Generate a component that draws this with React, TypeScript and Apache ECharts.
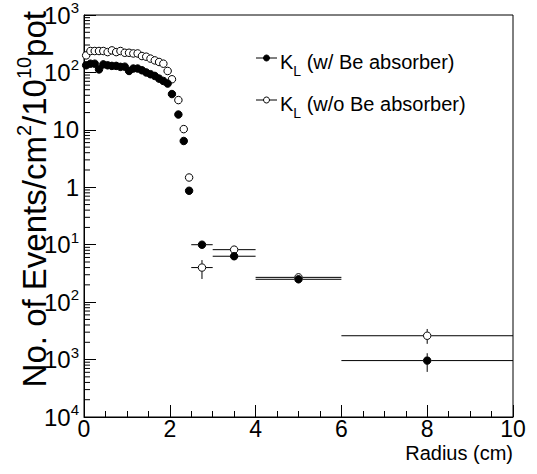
import React, { useEffect, useRef } from "react";
import * as echarts from "echarts";

// Bin centres (cm) and half bin widths
const radius = [
  0.05, 0.15, 0.25, 0.35, 0.45, 0.55, 0.65, 0.75, 0.85, 0.95, 1.05, 1.15, 1.25, 1.35,
  1.45, 1.55, 1.65, 1.75, 1.85, 1.95, 2.05, 2.2, 2.325, 2.45, 2.75, 3.5, 5, 8,
];
const binHalfWidth = [
  0.05, 0.05, 0.05, 0.05, 0.05, 0.05, 0.05, 0.05, 0.05, 0.05, 0.05, 0.05, 0.05, 0.05,
  0.05, 0.05, 0.05, 0.05, 0.05, 0.05, 0.05, 0.0625, 0.0625, 0.0625, 0.25, 0.5, 1, 2,
];
// K_L (w/ Be absorber)
const eventsWithBe = [
  133, 142, 142, 113, 138, 133, 130, 130, 125, 126, 106, 117, 117, 109, 100, 93, 87, 78,
  71, 64, 42, 18.5, 6.4, 0.87, 0.1, 0.063, 0.025, 0.00096,
];
const withBeErrLow = [
  null, null, null, null, null, null, null, null, null, null, null, null, null, null,
  null, null, null, null, null, null, null, null, null, null, null, null, null, 0.00061,
];
const withBeErrHigh = [
  null, null, null, null, null, null, null, null, null, null, null, null, null, null,
  null, null, null, null, null, null, null, null, null, null, null, null, null, 0.00129,
];
// K_L (w/o Be absorber)
const eventsWithoutBe = [
  198, 236, 236, 236, 236, 226, 242, 226, 236, 220, 220, 214, 214, 193, 188, 174, 162,
  152, 142, 106, 76, 33, 10.3, 1.48, 0.04, 0.082, 0.027, 0.0026,
];
const withoutBeErrLow = [
  null, null, null, null, null, null, null, null, null, null, null, null, null, null,
  null, null, null, null, null, null, null, null, null, null, 0.0253, null, null, 0.00188,
];
const withoutBeErrHigh = [
  null, null, null, null, null, null, null, null, null, null, null, null, null, null,
  null, null, null, null, null, null, null, null, null, null, 0.054, null, null, 0.00341,
];

// Axis tick labels (as printed in the original figure)
const xTickLabels = ["0", "2", "4", "6", "8", "10"];
const yTickExponents = [-4, -3, -2, -1, 0, 1, 2, 3];
const yTickLabels = [
  "{b|10}{s|4}", "{b|10}{s|3}", "{b|10}{s|2}", "{b|10}{s|1}",
  "{b|1}", "{b|10}", "{b|10}{s|2}", "{b|10}{s|3}",
];
const yMinorMultipliers = [2, 3, 4, 5, 6, 7, 8, 9];

const legendLabels = ["(w/ Be absorber)", "(w/o Be absorber)"];
const FONT = "'Liberation Sans', Arial, Helvetica, sans-serif";

export default function App() {
  const ref = useRef<HTMLDivElement>(null);

  useEffect(() => {
    if (!ref.current) return;
    const chart = echarts.init(ref.current, undefined, { renderer: "svg" });

    const build = (vals: number[], lo: (number | null)[], hi: (number | null)[]) =>
      radius.map((r, i) => [
        r,
        vals[i],
        r - binHalfWidth[i],
        r + binHalfWidth[i],
        lo[i] ?? vals[i],
        hi[i] ?? vals[i],
      ]);
    const dataWithBe = build(eventsWithBe, withBeErrLow, withBeErrHigh);
    const dataWithoutBe = build(eventsWithoutBe, withoutBeErrLow, withoutBeErrHigh);

    const minorData: number[][] = [];
    for (const e of yTickExponents.slice(0, -1)) {
      for (const m of yMinorMultipliers) minorData.push([0, m * Math.pow(10, e)]);
    }

    const gap = 4;
    const errRender = (params: any, api: any) => {
      const x = api.value(0), y = api.value(1);
      const c = api.coord([x, y]);
      const l = api.coord([api.value(2), y]);
      const r = api.coord([api.value(3), y]);
      const lo = api.coord([x, api.value(4)]);
      const hi = api.coord([x, api.value(5)]);
      const st = { stroke: "#000", lineWidth: 1 };
      const ch: any[] = [];
      if (c[0] - gap > l[0])
        ch.push({ type: "line", shape: { x1: l[0], y1: c[1], x2: c[0] - gap, y2: c[1] }, style: st });
      if (r[0] > c[0] + gap)
        ch.push({ type: "line", shape: { x1: c[0] + gap, y1: c[1], x2: r[0], y2: c[1] }, style: st });
      if (lo[1] > c[1] + gap)
        ch.push({ type: "line", shape: { x1: c[0], y1: c[1] + gap, x2: c[0], y2: lo[1] }, style: st });
      if (hi[1] < c[1] - gap)
        ch.push({ type: "line", shape: { x1: c[0], y1: hi[1], x2: c[0], y2: c[1] - gap }, style: st });
      return { type: "group", children: ch };
    };

    const legendY = [58, 100];
    const legendGraphics: any[] = [];
    legendY.forEach((ly, i) => {
      legendGraphics.push({
        type: "line",
        shape: { x1: 256, y1: ly, x2: 277, y2: ly },
        style: { stroke: "#000", lineWidth: 1 },
      });
      legendGraphics.push({
        type: "circle",
        shape: { cx: 266.5, cy: ly, r: 3 },
        style: { fill: i === 0 ? "#000" : "#fff", stroke: "#000", lineWidth: 1 },
      });
      legendGraphics.push({
        type: "text",
        x: 280,
        y: ly + 4,
        style: {
          text: `{k|K}{sub|L}{k| ${legendLabels[i]}}`,
          align: "left",
          verticalAlign: "middle",
          fill: "#000",
          rich: {
            k: { fontSize: 20, fontFamily: FONT, lineHeight: 32, fill: "#000" },
            sub: { fontSize: 14, fontFamily: FONT, lineHeight: 14, verticalAlign: "bottom", fill: "#000" },
          },
        },
      });
    });

    chart.setOption({
      animation: false,
      backgroundColor: "#fff",
      grid: {
        left: 84,
        right: 24,
        top: 11.5,
        bottom: 57,
        show: true,
        borderColor: "#000",
        borderWidth: 1,
        backgroundColor: "transparent",
      },
      xAxis: {
        type: "value",
        min: 0,
        max: 10,
        interval: 2,
        axisLine: { show: true, lineStyle: { color: "#000", width: 1 } },
        axisTick: { show: true, inside: true, length: 12, lineStyle: { color: "#000" } },
        minorTick: { show: true, splitNumber: 4, length: 6, lineStyle: { color: "#000" } },
        splitLine: { show: false },
        axisLabel: {
          margin: 0,
          fontSize: 23,
          fontFamily: FONT,
          color: "#000",
          formatter: (v: number) => xTickLabels[Math.round(v / 2)] ?? "",
        },
      },
      yAxis: {
        type: "log",
        logBase: 10,
        min: 1e-4,
        max: 1e3,
        splitNumber: 7,
        axisLine: { show: true, lineStyle: { color: "#000", width: 1 } },
        axisTick: { show: true, inside: true, length: 12, lineStyle: { color: "#000" } },
        splitLine: { show: false },
        axisLabel: {
          margin: 5,
          color: "#000",
          formatter: (v: number) => {
            const e = Math.round(Math.log10(v));
            const idx = yTickExponents.indexOf(e);
            return idx >= 0 ? yTickLabels[idx] : "";
          },
          rich: {
            b: { fontSize: 24, fontFamily: FONT, lineHeight: 30, color: "#000" },
            s: { fontSize: 15, fontFamily: FONT, lineHeight: 15, verticalAlign: "top", color: "#000" },
          },
        },
      },
      graphic: [
        {
          type: "text",
          x: 34,
          y: 11,
          rotation: Math.PI / 2,
          style: {
            text: "{t|No. of Events/cm}{s|2}{t|/10}{s|10}{t|pot}",
            align: "right",
            verticalAlign: "middle",
            rich: {
              t: { fontSize: 33, fontFamily: FONT, lineHeight: 41, fill: "#000" },
              s: { fontSize: 20, fontFamily: FONT, lineHeight: 20, verticalAlign: "top", fill: "#000" },
            },
          },
        },
        {
          type: "text",
          x: 513,
          y: 453,
          style: {
            text: "Radius (cm)",
            align: "right",
            verticalAlign: "middle",
            fontSize: 20,
            fontFamily: FONT,
            fill: "#000",
          },
        },
        ...legendGraphics,
      ],
      series: [
        {
          type: "custom",
          name: "yMinorTicks",
          data: minorData,
          z: 1,
          silent: true,
          renderItem: (params: any, api: any) => {
            const p = api.coord([0, api.value(1)]);
            return {
              type: "line",
              shape: { x1: p[0], y1: p[1], x2: p[0] + 6, y2: p[1] },
              style: { stroke: "#000", lineWidth: 1 },
            };
          },
        },
        {
          type: "custom",
          name: "errWithoutBe",
          data: dataWithoutBe,
          z: 2,
          silent: true,
          renderItem: errRender,
        },
        {
          type: "custom",
          name: "errWithBe",
          data: dataWithBe,
          z: 2,
          silent: true,
          renderItem: errRender,
        },
        {
          type: "scatter",
          name: "K_L (w/o Be absorber)",
          data: dataWithoutBe.map((d) => [d[0], d[1]]),
          symbol: "circle",
          symbolSize: 7.5,
          z: 3,
          itemStyle: { color: "#fff", borderColor: "#000", borderWidth: 1, opacity: 1 },
        },
        {
          type: "scatter",
          name: "K_L (w/ Be absorber)",
          data: dataWithBe.map((d) => [d[0], d[1]]),
          symbol: "circle",
          symbolSize: 7.5,
          z: 4,
          itemStyle: { color: "#000", borderColor: "#000", borderWidth: 1, opacity: 1 },
        },
      ],
    });

    return () => chart.dispose();
  }, []);

  return (
    <div
      ref={ref}
      style={{ position: "fixed", left: 0, top: 0, width: 537, height: 474, background: "#fff" }}
    />
  );
}
